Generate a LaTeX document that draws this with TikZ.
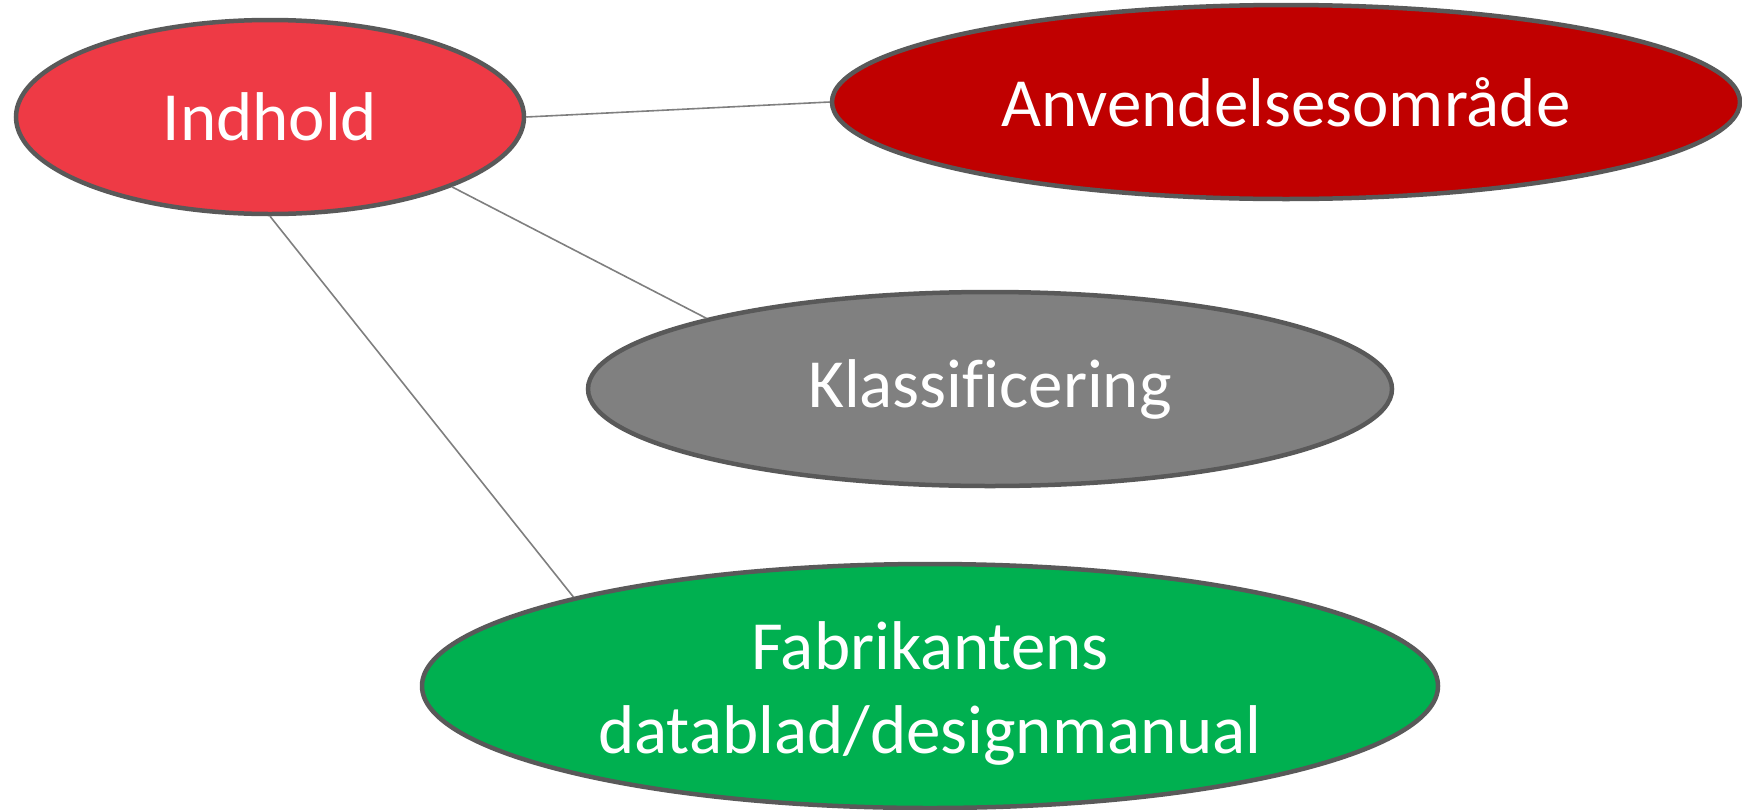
\documentclass[tikz,border=0pt]{standalone}
\usepackage{fontspec}
\setmainfont{Carlito}[Ligatures=NoCommon]
\usetikzlibrary{shapes.geometric}
\definecolor{cind}{HTML}{EE3A45}
\definecolor{canv}{HTML}{C00000}
\definecolor{ckla}{HTML}{808080}
\definecolor{cfab}{HTML}{00B050}
\definecolor{cbord}{HTML}{595959}
\definecolor{cline}{HTML}{7F7F7F}
\begin{document}
\begin{tikzpicture}[x=1pt,y=-1pt,
  oval/.style={ellipse,draw=cbord,line width=4.5pt,inner sep=0pt,text=white,
    font=\fontsize{69}{84}\selectfont,align=center},
  ovaltext/.style={inner sep=0pt,text=white,font=\fontsize{69}{84}\selectfont,align=center},
  conn/.style={draw=cline,line width=1.6pt}]
\useasboundingbox (0,0) rectangle (1742,809);
\node[oval,fill=cind,minimum width=508pt,minimum height=194pt] (ind) at (270,117) {Indhold};
\node[oval,fill=canv,minimum width=908pt,minimum height=194pt] (anv) at (1286,102) {Anvendelsesområde};
\node[oval,fill=ckla,minimum width=804pt,minimum height=194pt] (kla) at (990,389) {Klassificering};
\node[oval,fill=cfab,minimum width=1016pt,minimum height=244pt] (fab) at (930,686) {};
\node[ovaltext] (fabtext) at ([yshift=-7pt]fab.center) {Fabrikantens\\datablad/designmanual};
\draw[conn] (ind.east) -- (anv.west);
\draw[conn] (ind.-21) -- (kla.166.5);
\draw[conn] (ind.south) -- (fab.166.6);
\end{tikzpicture}
\end{document}
